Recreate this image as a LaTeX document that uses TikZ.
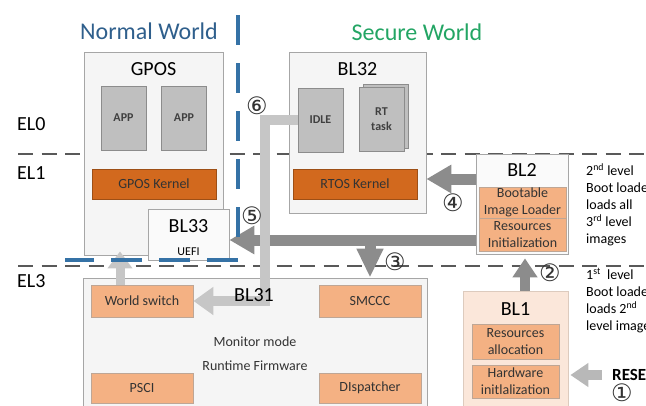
\documentclass[tikz,border=0pt]{standalone}
\usepackage{fontspec}
\setmainfont{Carlito}
\newfontfamily\circfont{DejaVu Sans}
\usetikzlibrary{arrows.meta}
\definecolor{nwblue}{HTML}{2F5F8C}
\definecolor{swgreen}{HTML}{23A564}
\definecolor{dashblue}{HTML}{3572A6}
\definecolor{kernelor}{HTML}{D2691E}
\definecolor{lightor}{HTML}{F4B183}
\definecolor{bloneor}{HTML}{FBE7DA}
\definecolor{arrgray}{HTML}{8C8C8C}
\definecolor{arrlight}{HTML}{C6C6C6}
\begin{document}
\begin{tikzpicture}[x=1pt, y=-1pt,
    every node/.style={inner sep=0pt, font=\fontsize{14}{17}\selectfont},
    outerbox/.style={draw=black!35, fill=black!4, line width=0.8pt},
    graybox/.style={draw=black!45, fill=black!25, line width=0.8pt, minimum width=45pt, minimum height=64pt, align=center, text=black!75, font=\fontsize{12}{15}\selectfont\bfseries},
    kernelbox/.style={draw=kernelor!75!black, fill=kernelor, line width=0.8pt, minimum width=124pt, minimum height=30pt, text=black!80},
    peachbox/.style={draw=lightor!60!black!60, fill=lightor, line width=0.8pt, align=center, text=black!80},
    heading/.style={font=\fontsize{20}{24}\selectfont},
    ellevel/.style={draw=black!65, line width=1.5pt, dash pattern=on 15pt off 8.5pt},
    bigarrow/.style={draw=arrgray, line width=11pt, -{Triangle[length=25pt, width=27pt]}},
    hatcharrow/.style={draw=arrlight, line width=10pt, line join=miter, -{Triangle[length=20pt, width=27pt]}},
    circled/.style={font=\circfont\fontsize{24}{24}\selectfont, text=black!80}
  ]
  \useasboundingbox (0,0) rectangle (646,405);

  % Livelli di eccezione
  \draw[ellevel] (18,154) -- (646,154);
  \draw[ellevel] (18,266) -- (646,266);
  \node[anchor=west, font=\fontsize{20}{24}\selectfont] (el0) at (17,124) {EL0};
  \node[anchor=west, font=\fontsize{20}{24}\selectfont] (el1) at (17,173) {EL1};
  \node[anchor=west, font=\fontsize{20}{24}\selectfont] (el3) at (17,281) {EL3};

  % Normal World
  \node[outerbox, minimum width=139pt, minimum height=203pt] (gpos) at (153.5,153.5) {};
  \node[heading] (gposT) at (153.5,69) {GPOS};
  \node[graybox] (app1) at (123.5,118) {APP};
  \node[graybox] (app2) at (184,118) {APP};
  \node[kernelbox] (gposk) at (154,184) {GPOS Kernel};
  \node[outerbox, fill=black!2, minimum width=81pt, minimum height=51pt] (bl33) at (188.5,234.5) {};
  \node[heading] (bl33T) at (188.5,226) {BL33};
  \node[font=\fontsize{12}{14}\selectfont] (uefi) at (188.5,252) {UEFI};

  % Secure World
  \node[outerbox, minimum width=137pt, minimum height=161pt] (bl32) at (357.5,132.5) {};
  \node[heading] (bl32T) at (357.5,69) {BL32};
  \node[graybox] (idle) at (320.5,120) {IDLE};
  \node[graybox] (rtback) at (385.5,116) {};
  \node[graybox] (rt) at (381.5,119.5) {RT\\task};
  \node[kernelbox] (rtosk) at (355,184) {RTOS Kernel};

  % BL2
  \node[outerbox, fill=black!2, minimum width=92pt, minimum height=100pt] (bl2) at (522,204) {};
  \node[heading] (bl2T) at (522,170) {BL2};
  \node[peachbox, minimum width=87pt, minimum height=31pt] (imgload) at (522.5,202.5) {Bootable\\Image Loader};
  \node[peachbox, minimum width=87pt, minimum height=33pt] (resinit) at (522.5,234.5) {Resources\\Initialization};
  \node[anchor=north west, align=left] (note2) at (586,163) {2\textsuperscript{nd} level\\Boot loader\\loads all\\3\textsuperscript{rd} level\\images};

  % BL31
  \node[outerbox, minimum width=344pt, minimum height=137pt] (bl31) at (255,346.5) {};
  \node[peachbox, minimum width=102pt, minimum height=32pt] (wsw) at (142,301) {World switch};
  \node[peachbox, minimum width=102pt, minimum height=32pt] (smccc) at (370,301) {SMCCC};
  \node[peachbox, minimum width=102pt, minimum height=30pt] (psci) at (142,388) {PSCI};
  \node[peachbox, minimum width=102pt, minimum height=30pt] (disp) at (370,388) {DIspatcher};
  \node[text=black!80] (mon) at (255,342) {Monitor mode};
  \node[text=black!80] (rtfw) at (255,366) {Runtime Firmware};

  % BL1
  \node[outerbox, draw=lightor!70!black!40, fill=bloneor, minimum width=105pt, minimum height=124pt] (bl1) at (515.5,353) {};
  \node[heading] (bl1T) at (515.5,309) {BL1};
  \node[peachbox, minimum width=87pt, minimum height=35pt] (resalloc) at (515.5,341.5) {Resources\\allocation};
  \node[peachbox, minimum width=87pt, minimum height=33pt] (hwinit) at (515.5,381.5) {Hardware\\initlalization};
  \node[anchor=north west, align=left] (note1) at (586,268) {1\textsuperscript{st}\ \ level\\Boot loader\\loads 2\textsuperscript{nd}\\level images};
  \node[anchor=west, font=\fontsize{17}{20}\selectfont\bfseries] (reset) at (612,375) {RESET};

  % Frecce
  \coordinate (br3) at (370,240);
  \coordinate (c6) at (265,301);
  \draw[bigarrow, draw=black!28, line width=10pt, -{Triangle[length=18pt, width=23pt]}] ([xshift=-10pt]reset.west) -- ([xshift=2pt, yshift=-22pt]bl1.east);
  \draw[bigarrow, line width=10pt, -{Triangle[length=19pt, width=24pt]}] ([xshift=9.5pt]bl1.north) -- ([xshift=3pt, yshift=-4pt]bl2.south);
  \draw[bigarrow] ([yshift=25pt]bl2.west) -- ([yshift=-46.5pt]bl32.east);
  \draw[bigarrow] ([yshift=-36pt]bl2.west) -- ([yshift=-5.5pt]bl33.east);
  \draw[bigarrow, -{Triangle[length=29pt, width=25pt]}] (br3) -- (br3 |- bl31.north);
  \draw[hatcharrow] (idle.west) -| (c6) -- (wsw.east);
  \draw[hatcharrow, line width=9pt, -{Triangle[length=17pt, width=24pt]}] ([xshift=-22pt]wsw.north) -- ([xshift=-33.5pt, yshift=4pt]gpos.south);
  \node[heading] (bl31T) at (254,295) {BL31};

  % Confine tra i mondi
  \draw[dashblue, line width=3.5pt, dash pattern=on 30pt off 18pt] (238,15) -- (238,242);
  \draw[dashblue, line width=3.5pt, dash pattern=on 31pt off 17pt] (238,260) -- (65,260);
  \node[text=nwblue, font=\fontsize{24}{28}\selectfont] (nw) at (149,31) {Normal World};
  \node[text=swgreen, font=\fontsize{24}{28}\selectfont] (sw) at (417,32) {Secure World};

  % Numeri
  \node[circled] (n1) at (622,393) {①};
  \node[circled] (n2) at (550,273) {②};
  \node[circled] (n3) at (395,262) {③};
  \node[circled] (n4) at (453,203) {④};
  \node[circled] (n5) at (252,216) {⑤};
  \node[circled] (n6) at (257,106) {⑥};
\end{tikzpicture}
\end{document}
